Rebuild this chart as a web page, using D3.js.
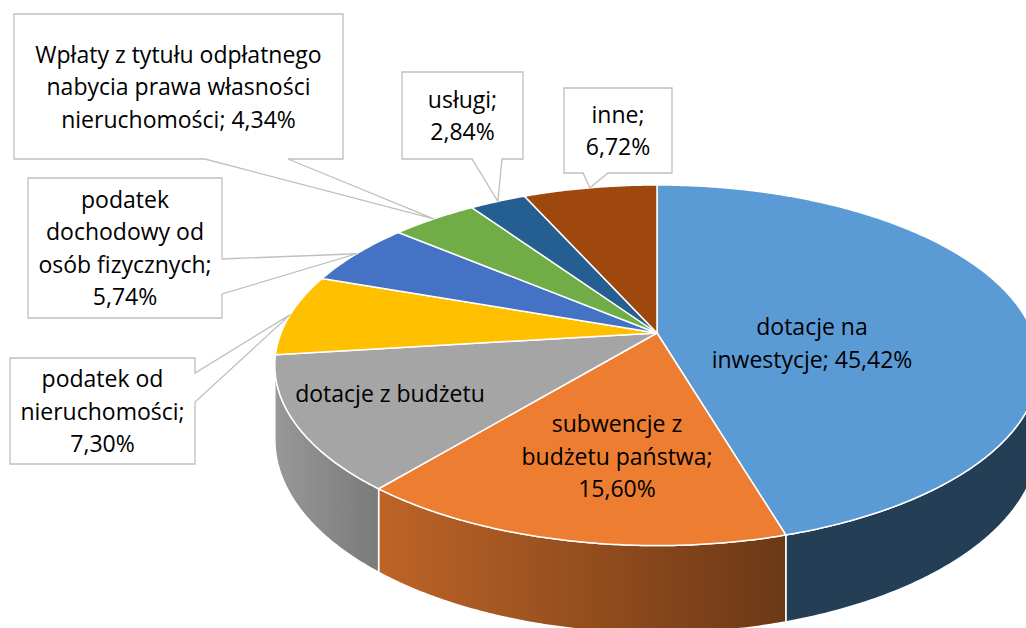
<!DOCTYPE html>
<html>
<head>
<meta charset="utf-8">
<script src="https://cdn.jsdelivr.net/npm/d3@7"></script>
<style>
  html, body { margin: 0; padding: 0; background: #fff; }
  svg { display: block; font-family: "Open Sans", sans-serif; }
</style>
</head>
<body>
<div id="chart"></div>
<script>
// slices, clockwise from 12 o'clock
const categories = [
  'dotacje na inwestycje',
  'subwencje z budżetu państwa',
  'dotacje z budżetu',
  'podatek od nieruchomości',
  'podatek dochodowy od osób fizycznych',
  'Wpłaty z tytułu odpłatnego nabycia prawa własności nieruchomości',
  'usługi',
  'inne'
]
const values = [45.42, 15.60, 12.04, 7.30, 5.74, 4.34, 2.84, 6.72]
// label text as shown
const labelLines = [
  ['dotacje na', 'inwestycje; 45,42%'],
  ['subwencje z', 'budżetu państwa;', '15,60%'],
  ['dotacje z budżetu'],
  ['podatek od', 'nieruchomości;', '7,30%'],
  ['podatek', 'dochodowy od', 'osób fizycznych;', '5,74%'],
  ['Wpłaty z tytułu odpłatnego', 'nabycia prawa własności', 'nieruchomości; 4,34%'],
  ['usługi;', '2,84%'],
  ['inne;', '6,72%']
]

const colors = ['#5b9bd5', '#ed7d31', '#a5a5a5', '#ffc000', '#4472c4', '#70ad47', '#255e91', '#9e480e']
// side shading (left, right) as a fraction of the top colour
const sideShade = [[0.40, 0.40], [0.80, 0.45], [0.92, 0.74], [0.8, 0.7], [0.8, 0.7], [0.8, 0.7], [0.8, 0.7], [0.8, 0.7]]

// label placement: inside labels by centre/first baseline, callouts by box + pointer base
const inside = { 0: [812, 335], 1: [617, 432], 2: [390, 402] }
const callouts = {
  3: { box: [10, 358, 195, 464], side: 'right', base: [373, 402] },
  4: { box: [28, 178, 222, 318], side: 'right', base: [259, 294] },
  5: { box: [14, 14, 343, 159], side: 'bottom', base: [205, 288] },
  6: { box: [402, 72, 523, 159], side: 'bottom', base: [472, 502] },
  7: { box: [564, 88, 672, 173], side: 'bottom', base: [583, 608] }
}

const width = 1026, height = 628
const cx = 657, cy = 333, RX = 376, RY = 174.5, P = 0.179, DEPTH = 72
const lineH = 32.5, fontSize = 23

// simple perspective projection of the pie's top plane
function proj(a, r = 1) {
  const u = Math.sin(a) * r, v = Math.cos(a) * r
  const s = 1 / (1 + P * v)
  return [cx + RX * u * s, cy - RY * v * s, s]
}
function rim(a0, a1) {
  const n = Math.max(2, Math.ceil((a1 - a0) / (Math.PI / 360)))
  return d3.range(n + 1).map(i => proj(a0 + (a1 - a0) * i / n))
}
const shade = (c, k) => { const r = d3.rgb(c); return d3.rgb(r.r * k, r.g * k, r.b * k) }

const arcs = d3.pie().sort(null).startAngle(0).endAngle(2 * Math.PI)(values)

const svg = d3.select('#chart').append('svg')
  .attr('width', width).attr('height', height)
const defs = svg.append('defs')

// visible side: between the silhouette angles
const aR = Math.acos(-P), aL = 2 * Math.PI - Math.acos(-P)

const sides = svg.append('g')
arcs.forEach((d, i) => {
  const b0 = Math.max(d.startAngle, aR), b1 = Math.min(d.endAngle, aL)
  if (b1 <= b0) return
  const top = rim(b0, b1)
  const bot = top.map(p => [p[0], p[1] + DEPTH * p[2]]).reverse()
  const pts = top.concat(bot)
  const xs = pts.map(p => p[0])
  const g = defs.append('linearGradient').attr('id', 'side' + i)
    .attr('gradientUnits', 'userSpaceOnUse')
    .attr('x1', d3.min(xs)).attr('x2', d3.max(xs)).attr('y1', 0).attr('y2', 0)
  g.append('stop').attr('offset', 0).attr('stop-color', shade(colors[i], sideShade[i][0]))
  g.append('stop').attr('offset', 1).attr('stop-color', shade(colors[i], sideShade[i][1]))
  sides.append('path')
    .attr('d', d3.line()(pts.map(p => [p[0], p[1]])) + 'Z')
    .attr('fill', `url(#side${i})`)
    .attr('stroke', '#fff').attr('stroke-width', 1.5).attr('stroke-linejoin', 'round')
})

// top faces
svg.append('g').selectAll('path').data(arcs).join('path')
  .attr('d', d => d3.line()([[cx, cy]].concat(rim(d.startAngle, d.endAngle).map(p => [p[0], p[1]]))) + 'Z')
  .attr('fill', (d, i) => colors[i])
  .attr('stroke', '#fff').attr('stroke-width', 1.5).attr('stroke-linejoin', 'round')

// callouts with wedge pointer to the slice rim
function calloutPath(c, tip) {
  const [x0, y0, x1, y1] = c.box, [a, b] = c.base
  const p = d3.path()
  p.moveTo(x0, y0); p.lineTo(x1, y0)
  if (c.side === 'right') {
    p.lineTo(x1, a); p.lineTo(tip[0], tip[1]); p.lineTo(x1, b); p.lineTo(x1, y1); p.lineTo(x0, y1)
  } else {
    p.lineTo(x1, y1); p.lineTo(b, y1); p.lineTo(tip[0], tip[1]); p.lineTo(a, y1); p.lineTo(x0, y1)
  }
  p.closePath()
  return p.toString()
}

const labels = svg.append('g').attr('font-size', fontSize).attr('fill', '#000').attr('text-anchor', 'middle')
arcs.forEach((d, i) => {
  const lines = labelLines[i]
  if (callouts[i]) {
    const c = callouts[i]
    const mid = (d.startAngle + d.endAngle) / 2
    labels.append('path').attr('d', calloutPath(c, proj(mid)))
      .attr('fill', '#fff').attr('stroke', '#bfbfbf').attr('stroke-width', 1.3)
    const bx = (c.box[0] + c.box[2]) / 2, by = (c.box[1] + c.box[3]) / 2
    lines.forEach((t, k) => {
      labels.append('text').attr('x', bx)
        .attr('y', by + (k - (lines.length - 1) / 2) * lineH + 8.5).text(t)
    })
  } else {
    const [x, y] = inside[i]
    lines.forEach((t, k) => labels.append('text').attr('x', x).attr('y', y + k * lineH).text(t))
  }
})
</script>
</body>
</html>
